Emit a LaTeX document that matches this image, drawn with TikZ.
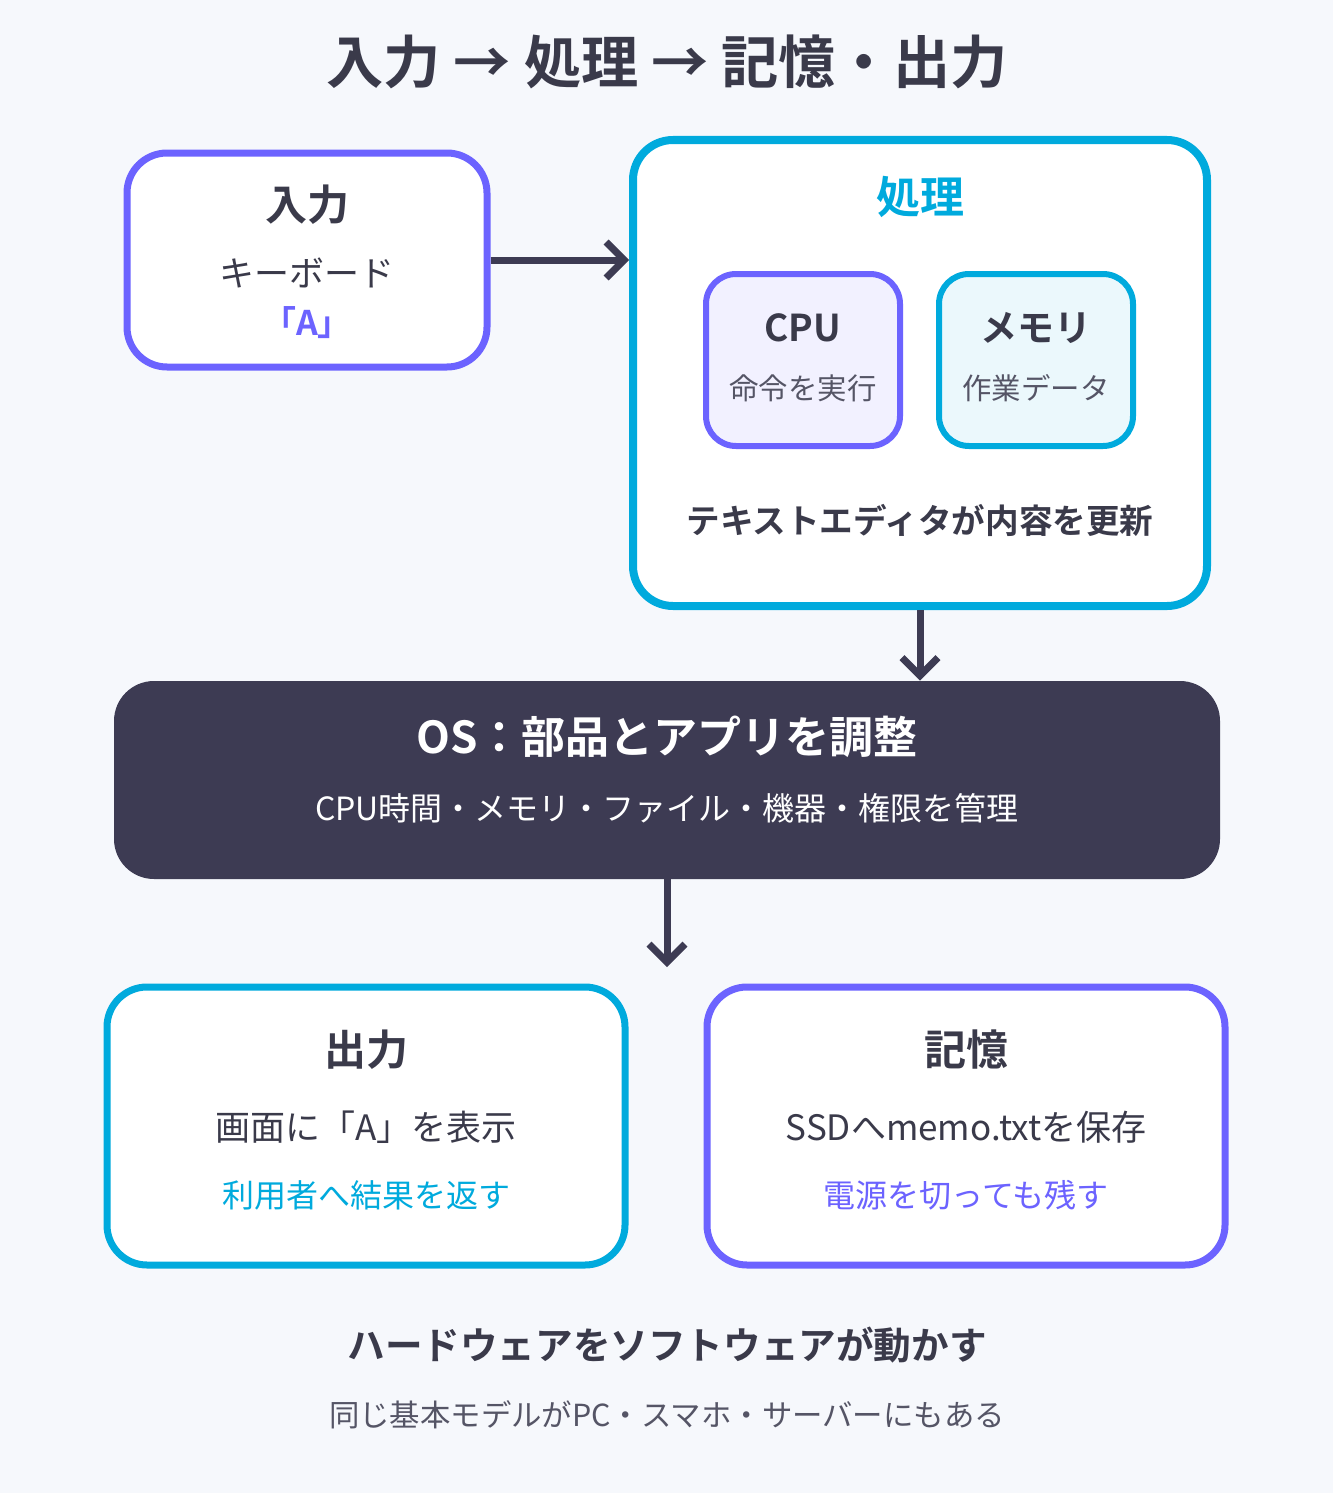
\documentclass[tikz,border=0pt]{standalone}
\usepackage{fontspec}
\setmainfont{Noto Sans CJK JP}
\newfontfamily\cjkbold{Noto Sans CJK JP Bold}
\usetikzlibrary{arrows.meta}
\definecolor{ink}{HTML}{3D3B53}
\definecolor{vio}{HTML}{6C63FF}
\definecolor{cya}{HTML}{00AADD}
\definecolor{bg}{HTML}{F6F8FC}
\definecolor{txt}{HTML}{3A3A4A}
\definecolor{sub}{HTML}{555566}

\begin{document}
\begin{tikzpicture}[x=0.5pt, y=-0.5pt,
    box/.style={draw, line width=3.5pt, rounded corners=20pt, fill=white},
    hd/.style={font=\cjkbold\fontsize{21}{24}\selectfont, text=txt},
    tx/.style={font=\fontsize{17.5}{20}\selectfont, text=txt},
    nt/.style={font=\fontsize{16}{19}\selectfont},
    arr/.style={draw=ink, line width=3.5pt, -{Straight Barb[length=9pt, width=18pt, line width=3.5pt]}}]
	\fill[bg] (0,0) rectangle (1333,1493);
	\useasboundingbox (0,0) rectangle (1333,1493);

	\node[font=\cjkbold\fontsize{28.6}{32}\selectfont, text=txt] (title) at (667,62) {入力 → 処理 → 記憶・出力};

	% input
	\node[box, draw=vio, minimum width=180pt, minimum height=107pt] (in) at (307,260) {};
	\node[hd] (inh) at (307,205) {入力};
	\node[tx] (kb) at (307,273) {キーボード};
	\node[font=\cjkbold\fontsize{17}{20}\selectfont, text=vio] (ka) at (307,323) {「A」};

	% processing
	\node[box, draw=cya, line width=4pt, minimum width=287pt, minimum height=233pt] (pr) at (920,373) {};
	\node[font=\cjkbold\fontsize{22}{26}\selectfont, text=cya] (prh) at (920,197) {処理};
	\node[box, draw=vio, fill=vio!9, line width=3pt, rounded corners=15pt, minimum width=97pt, minimum height=86pt] (cpu) at (803,360) {};
	\node[font=\cjkbold\fontsize{18.5}{22}\selectfont, text=txt] at (803,328) {CPU};
	\node[font=\fontsize{14.7}{18}\selectfont, text=sub] at (803,388) {命令を実行};
	\node[box, draw=cya, fill=cya!8, line width=3pt, rounded corners=15pt, minimum width=97pt, minimum height=86pt] (mem) at (1036,360) {};
	\node[font=\cjkbold\fontsize{18.5}{22}\selectfont, text=txt] at (1036,328) {メモリ};
	\node[font=\fontsize{14.7}{18}\selectfont, text=sub] at (1036,388) {作業データ};
	\node[font=\cjkbold\fontsize{16.8}{20}\selectfont, text=txt] at (920,520) {テキストエディタが内容を更新};

	% os
	\node[fill=ink, rounded corners=20pt, minimum width=553pt, minimum height=99pt] (os) at (667,780) {};
	\node[font=\cjkbold\fontsize{22}{26}\selectfont, text=white] at (667,737) {OS：部品とアプリを調整};
	\node[font=\fontsize{16}{19}\selectfont, text=white] at (667,808) {CPU時間・メモリ・ファイル・機器・権限を管理};
	\coordinate (osout) at (667,967);

	% output / storage
	\node[box, draw=cya, minimum width=259pt, minimum height=139pt] (out) at (366,1126) {};
	\node[hd] at (366,1050) {出力};
	\node[tx] at (366,1127) {画面に「A」を表示};
	\node[nt, text=cya] at (366,1195) {利用者へ結果を返す};
	\node[box, draw=vio, minimum width=259pt, minimum height=139pt] (sto) at (966,1126) {};
	\node[hd] at (966,1050) {記憶};
	\node[tx] at (966,1127) {SSDへmemo.txtを保存};
	\node[nt, text=vio] at (966,1195) {電源を切っても残す};

	\draw[arr] (in.east) -- (pr.west |- in.east);
	\draw[arr] (pr.south) -- (os.north -| pr.south);
	\draw[arr] (os.south) -- (osout);

	\node[font=\cjkbold\fontsize{18.8}{22}\selectfont, text=txt] at (667,1345) {ハードウェアをソフトウェアが動かす};
	\node[font=\fontsize{15.2}{18}\selectfont, text=sub] at (667,1415) {同じ基本モデルがPC・スマホ・サーバーにもある};
\end{tikzpicture}
\end{document}
